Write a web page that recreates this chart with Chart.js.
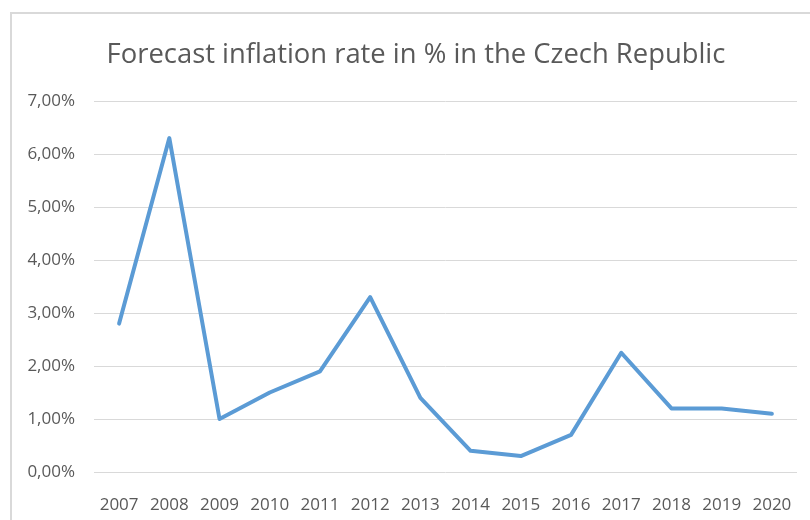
<!DOCTYPE html>
<html>
<head>
<meta charset="utf-8">
<script src="https://cdn.jsdelivr.net/npm/chart.js@4.4.1/dist/chart.umd.min.js"></script>
<style>
  html, body { margin: 0; padding: 0; background: #fff; overflow: hidden; }
  #frame {
    position: absolute; left: 10px; top: 12px;
    width: 808px; height: 506px;
    border-left: 2px solid #d9d9d9; border-top: 2px solid #d9d9d9;
  }
  #inflationChart { display: block; }
</style>
</head>
<body>
<div id="frame">
  <canvas id="inflationChart" width="808" height="506"></canvas>
</div>
<script>
  /* Data */
  var years = ['2007', '2008', '2009', '2010', '2011', '2012', '2013', '2014', '2015', '2016', '2017', '2018', '2019', '2020'];
  var inflation = [2.8, 6.3, 1.0, 1.5, 1.9, 3.3, 1.4, 0.4, 0.3, 0.7, 2.25, 1.2, 1.2, 1.1];
  var yTicks = [0, 1, 2, 3, 4, 5, 6, 7];
  var chartTitle = 'Forecast inflation rate in % in the Czech Republic';

  var textColor = '#595959';
  var fontFamily = '"Open Sans", "Noto Sans", sans-serif';

  /* Title centred on the whole chart box, like Excel does */
  var boxTitle = {
    id: 'boxTitle',
    afterDraw: function (chart) {
      var c = chart.ctx;
      c.save();
      c.fillStyle = textColor;
      c.font = 'normal 27.4px ' + fontFamily;
      c.textAlign = 'center';
      c.textBaseline = 'middle';
      c.fillText(chartTitle, chart.width / 2, 41);
      c.restore();
    }
  };

  /* Chart */
  var ctx = document.getElementById('inflationChart').getContext('2d');
  new Chart(ctx, {
    type: 'line',
    data: {
      labels: years,
      datasets: [{
        data: inflation,
        borderColor: '#5b9bd5',
        borderWidth: 4,
        borderJoinStyle: 'round',
        borderCapStyle: 'round',
        pointRadius: 0,
        pointHoverRadius: 0,
        tension: 0,
        fill: false
      }]
    },
    options: {
      responsive: false,
      animation: false,
      layout: { padding: { left: 0, right: 23, top: 87, bottom: 0 } },
      plugins: {
        legend: { display: false },
        tooltip: { enabled: false },
        title: { display: false }
      },
      scales: {
        x: {
          offset: true,
          grid: { display: false },
          border: { display: false },
          ticks: {
            color: textColor,
            font: { family: fontFamily, size: 17 },
            padding: 15,
            maxRotation: 0,
            autoSkip: false
          },
          afterFit: function (scale) { scale.height = 48; }
        },
        y: {
          min: yTicks[0],
          max: yTicks[yTicks.length - 1],
          afterBuildTicks: function (scale) {
            scale.ticks = yTicks.map(function (v) { return { value: v }; });
          },
          grid: { color: '#d9d9d9', lineWidth: 1, drawTicks: false },
          border: { display: false },
          ticks: {
            color: textColor,
            font: { family: fontFamily, size: 17 },
            padding: 19,
            callback: function (v) { return v.toFixed(2).replace('.', ',') + '%'; }
          },
          afterFit: function (scale) { scale.width = 82; }
        }
      }
    },
    plugins: [boxTitle]
  });
</script>
</body>
</html>
